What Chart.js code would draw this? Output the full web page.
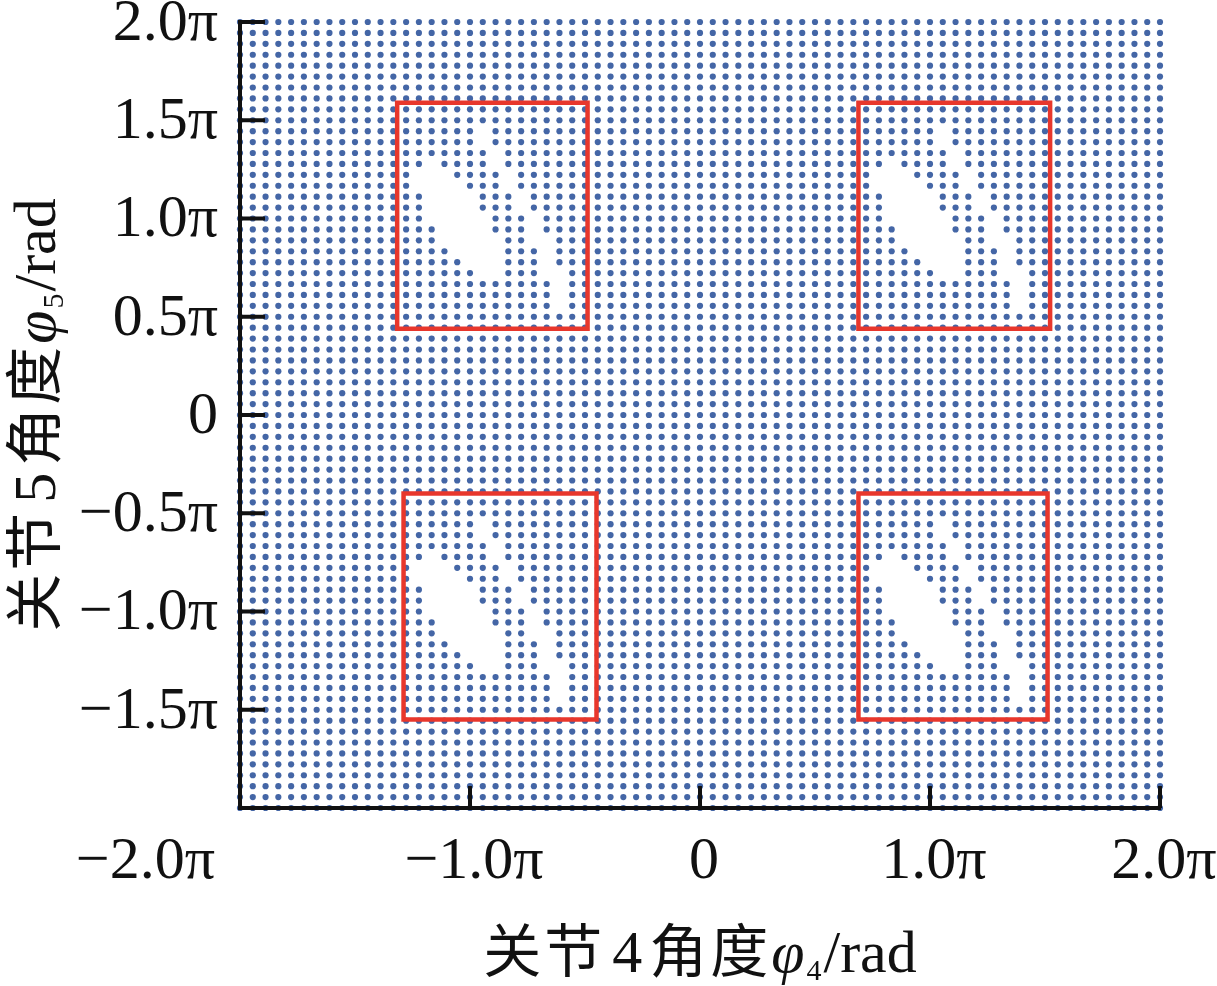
<!DOCTYPE html>
<html>
<head>
<meta charset="utf-8">
<script src="https://cdn.jsdelivr.net/npm/chart.js@4.4.0/dist/chart.umd.min.js"></script>
<style>
    body { margin: 0; background: #fff; }
    #wrap { width: 1217px; height: 986px; position: relative; }
</style>
</head>
<body>
<div id="wrap"><canvas id="chart"></canvas></div>
<script>
// joint angles in degrees, one sample every 10 deg over -2π..2π
const phiMin = -360;
const phiMax = 360;
const phiStep = 10;

// samples with no solution, one 2π period (same pattern in every box)
const gapPhi5 = [260, 250, 240, 230, 220, 210, 200, 190, 180, 170, 160, 150, 140, 130, 120, 110, 100];
const gapPhi4 = [
    [-170],
    [-170],
    [-160],
    [-210, -160],
    [-220, -210, -200, -150],
    [-220, -210, -200, -190, -150],
    [-210, -200, -190, -180, -140],
    [-210, -200, -190, -180, -140],
    [-210, -200, -190, -180, -170, -130],
    [-200, -190, -180, -170, -130],
    [-200, -190, -180, -170, -160, -130, -120],
    [-190, -180, -170, -160, -120],
    [-180, -170, -160, -120],
    [-170, -160, -120, -110],
    [-110],
    [-110],
    [-110]
];

const xTickValues = [-360, -180, 0, 180, 360];
const xTickLabels = ['−2.0π', '−1.0π', '0', '1.0π', '2.0π'];
const yTickValues = [360, 270, 180, 90, 0, -90, -180, -270];
const yTickLabels = ['2.0π', '1.5π', '1.0π', '0.5π', '0', '−0.5π', '−1.0π', '−1.5π'];

// red frames: [phi4 left, phi4 right, phi5 top, phi5 bottom]
const boxTopLeft = [-237, -88, 286, 79];
const boxTopRight = [124, 274, 286, 79];
const boxBottomLeft = [-232, -81, -72, -279];
const boxBottomRight = [124, 272, -72, -279];

const serif = '"Liberation Serif", "Times New Roman", serif';
const cjk = '"Noto Sans CJK SC", sans-serif';

function wrap360(v) {
    return ((v % 360) + 360) % 360;
}

const gaps = new Set();
gapPhi5.forEach(function (p5, k) {
    for (const p4 of gapPhi4[k]) {
        gaps.add(wrap360(p4) + ',' + wrap360(p5));
    }
});

const points = [];
for (let p4 = phiMin; p4 <= phiMax; p4 += phiStep) {
    for (let p5 = phiMax; p5 >= phiMin; p5 -= phiStep) {
        if (!gaps.has(wrap360(p4) + ',' + wrap360(p5))) {
            points.push({ x: p4, y: p5 });
        }
    }
}

function frame(b) {
    return [
        { x: b[0], y: b[2] }, { x: b[1], y: b[2] },
        { x: b[1], y: b[3] }, { x: b[0], y: b[3] },
        { x: b[0], y: b[2] }
    ];
}

function frameDataset(b) {
    return {
        type: 'line',
        data: frame(b),
        borderColor: '#e8372c',
        borderWidth: 4.5,
        borderJoinStyle: 'miter',
        borderCapStyle: 'square',
        pointRadius: 0,
        fill: false,
        tension: 0,
        order: 0
    };
}

// each run: text, font, extra space per char (sp), padding (pad), baseline shift (dy)
function runWidth(ctx, r) {
    ctx.font = r.font;
    let w = 2 * (r.pad || 0);
    for (const ch of r.t) {
        w += ctx.measureText(ch).width + (r.sp || 0);
    }
    return w;
}

function drawRuns(ctx, runs, cx, y) {
    let total = 0;
    for (const r of runs) {
        total += runWidth(ctx, r);
    }
    let x = cx - total / 2;
    ctx.textAlign = 'left';
    ctx.textBaseline = 'alphabetic';
    for (const r of runs) {
        ctx.font = r.font;
        x += r.pad || 0;
        for (const ch of r.t) {
            ctx.fillText(ch, x, y + (r.dy || 0));
            x += ctx.measureText(ch).width + (r.sp || 0);
        }
        x += r.pad || 0;
    }
}

function titleRuns(n) {
    return [
        { t: '关节', font: '58px ' + cjk, sp: 3 },
        { t: n, font: '60px ' + serif, pad: 7 },
        { t: '角度', font: '58px ' + cjk, sp: 3 },
        { t: 'φ', font: 'italic 60px ' + serif },
        { t: n, font: '30px ' + serif, dy: 8, pad: 2 },
        { t: '/rad', font: '60px ' + serif }
    ];
}

const axisDecor = {
    id: 'axisDecor',
    afterDraw(chart) {
        const ctx = chart.ctx;
        const xs = chart.scales.x;
        const ys = chart.scales.y;
        const area = chart.chartArea;
        ctx.save();
        ctx.strokeStyle = '#111';
        ctx.fillStyle = '#111';
        ctx.lineWidth = 4;

        // inward tick marks
        ctx.beginPath();
        for (const v of yTickValues) {
            const py = ys.getPixelForValue(v);
            ctx.moveTo(area.left, py);
            ctx.lineTo(area.left + 25, py);
        }
        for (const v of xTickValues.slice(1)) {
            const px = xs.getPixelForValue(v);
            ctx.moveTo(px, area.bottom);
            ctx.lineTo(px, area.bottom - 22);
        }
        ctx.stroke();

        ctx.font = '60px ' + serif;
        ctx.textAlign = 'right';
        ctx.textBaseline = 'middle';
        yTickValues.forEach(function (v, i) {
            ctx.fillText(yTickLabels[i], area.left - 22, ys.getPixelForValue(v) + 2);
        });

        ctx.textBaseline = 'alphabetic';
        xTickValues.forEach(function (v, i) {
            const px = xs.getPixelForValue(v);
            if (i === 0) {
                ctx.textAlign = 'right';
                ctx.fillText(xTickLabels[i], area.left - 25, 878);
            } else {
                ctx.textAlign = 'center';
                ctx.fillText(xTickLabels[i], px + 4, 878);
            }
        });

        drawRuns(ctx, titleRuns('4'), (area.left + area.right) / 2, 972);

        ctx.translate(55, (area.top + area.bottom) / 2);
        ctx.rotate(-Math.PI / 2);
        drawRuns(ctx, titleRuns('5'), 0, 0);
        ctx.restore();
    }
};

new Chart(document.getElementById('chart'), {
    type: 'scatter',
    data: {
        datasets: [
            {
                data: points,
                pointRadius: 3.1,
                pointBackgroundColor: '#4466a6',
                pointBorderWidth: 0,
                clip: false,
                order: 1
            },
            frameDataset(boxTopLeft),
            frameDataset(boxTopRight),
            frameDataset(boxBottomLeft),
            frameDataset(boxBottomRight)
        ]
    },
    options: {
        responsive: true,
        maintainAspectRatio: false,
        animation: false,
        events: [],
        layout: { padding: { top: 22, right: 57, left: 0, bottom: 0 } },
        plugins: { legend: { display: false }, tooltip: { enabled: false } },
        scales: {
            x: {
                type: 'linear',
                min: phiMin,
                max: phiMax,
                grid: { display: false },
                border: { display: true, color: '#111', width: 4, z: 1 },
                ticks: { display: false },
                afterFit(scale) { scale.height = 178; }
            },
            y: {
                type: 'linear',
                min: phiMin,
                max: phiMax,
                grid: { display: false },
                border: { display: true, color: '#111', width: 4, z: 1 },
                ticks: { display: false },
                afterFit(scale) { scale.width = 240; }
            }
        }
    },
    plugins: [axisDecor]
});
</script>
</body>
</html>
